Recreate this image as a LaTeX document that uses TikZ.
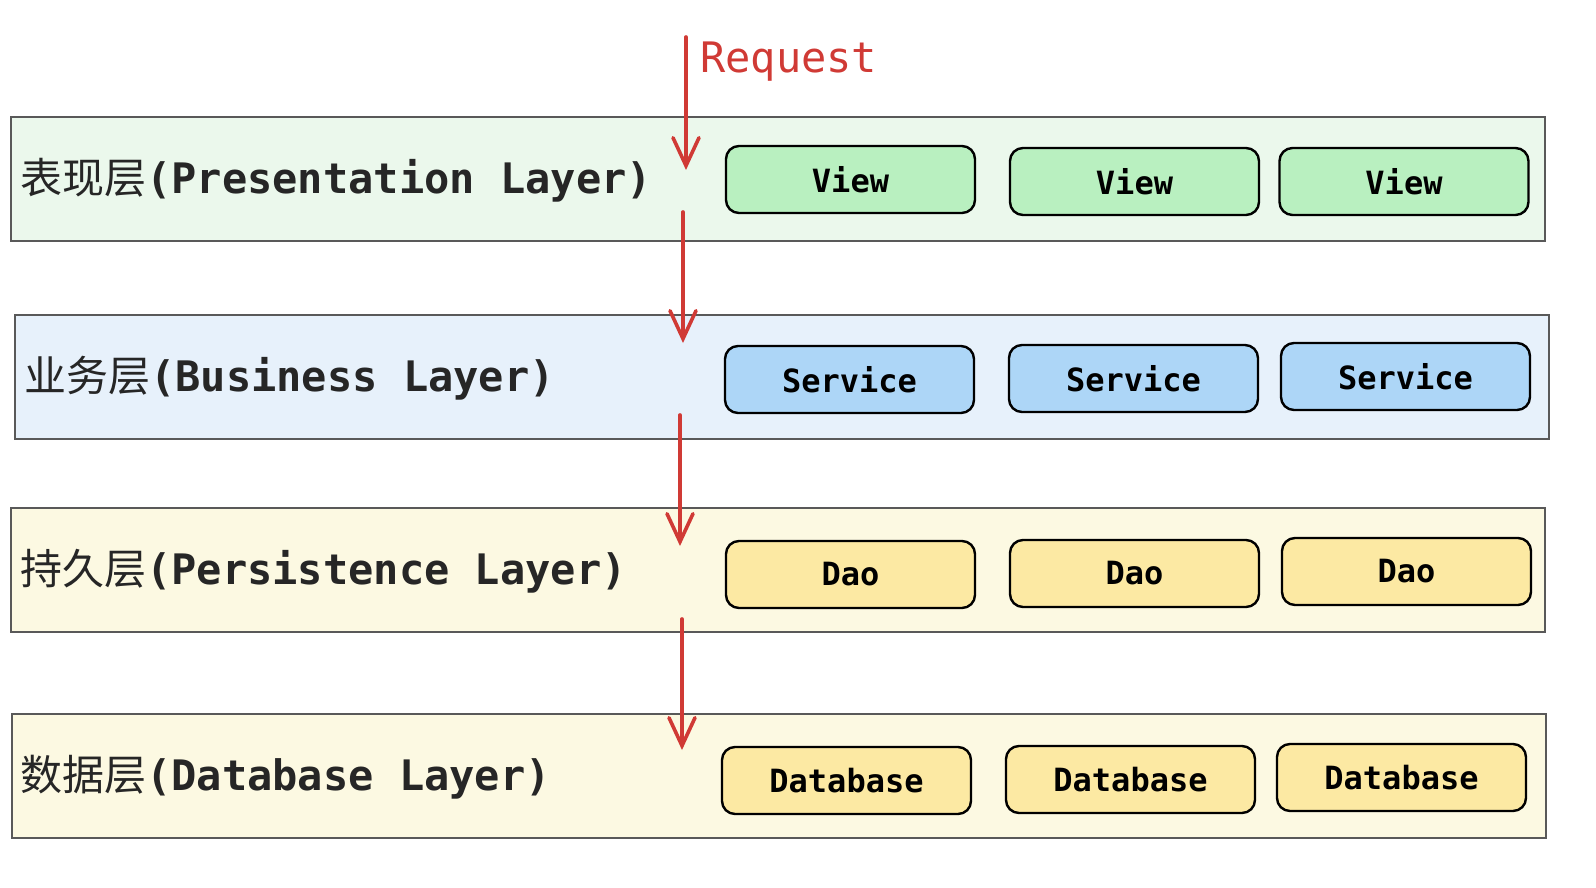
\documentclass[tikz,border=0pt]{standalone}
\usepackage{fontspec}
\usepackage{tikz}
\usetikzlibrary{arrows.meta}
\setmonofont{DejaVu Sans Mono}
\newfontfamily\cjk{Noto Sans CJK SC}
\definecolor{reqred}{HTML}{D03A35}
\definecolor{bandgreen}{HTML}{EBF8EC}
\definecolor{bandblue}{HTML}{E7F1FB}
\definecolor{bandyellow}{HTML}{FCF9E2}
\definecolor{boxgreen}{HTML}{B9F0C0}
\definecolor{boxblue}{HTML}{ADD6F7}
\definecolor{boxyellow}{HTML}{FCE9A3}
\tikzset{>=stealth,
  band/.style={draw=black!65, line width=1.3pt, minimum width=1534pt, minimum height=124pt, inner sep=0pt},
  part/.style={draw=black, line width=2.4pt, rounded corners=13pt, minimum width=249pt, minimum height=67pt,
    inner sep=0pt, font=\fontsize{32pt}{38pt}\ttfamily\bfseries},
  layername/.style={anchor=west, inner sep=0pt, text=black!85, font=\fontsize{42pt}{50pt}\ttfamily\bfseries},
  flow/.style={->, draw=reqred, line width=3.6pt, line cap=round,
    -{Straight Barb[length=28pt,width=26pt,line cap=round]}}
}

\begin{document}
\begin{tikzpicture}[x=1pt,y=-1pt]
\useasboundingbox (0,0) rectangle (1596,888);
% bands
\node[band, fill=bandgreen] (pres) at (778,179) {};
\node[band, fill=bandblue] (bus) at (782,377) {};
\node[band, fill=bandyellow] (pers) at (778,570) {};
\node[band, fill=bandyellow] (db) at (779,776) {};
\node[layername] (presname) at (20,180) {{\cjk\mdseries 表现层}(Presentation Layer)};
\node[layername] (busname) at (24,378) {{\cjk\mdseries 业务层}(Business Layer)};
\node[layername] (persname) at (20,571) {{\cjk\mdseries 持久层}(Persistence Layer)};
\node[layername] (dbname) at (20,777) {{\cjk\mdseries 数据层}(Database Layer)};
% parts
\node[part, fill=boxgreen] (view1) at (850.5,179.5) {View};
\node[part, fill=boxgreen] (view2) at (1134.5,181.5) {View};
\node[part, fill=boxgreen] (view3) at (1404,181.5) {View};
\node[part, fill=boxblue] (serv1) at (849.5,379.5) {Service};
\node[part, fill=boxblue] (serv2) at (1133.5,378.5) {Service};
\node[part, fill=boxblue] (serv3) at (1405.5,376.5) {Service};
\node[part, fill=boxyellow] (dao1) at (850.5,574.5) {Dao};
\node[part, fill=boxyellow] (dao2) at (1134.5,573.5) {Dao};
\node[part, fill=boxyellow] (dao3) at (1406.5,571.5) {Dao};
\node[part, fill=boxyellow] (data1) at (846.5,780.5) {Database};
\node[part, fill=boxyellow] (data2) at (1130.5,779.5) {Database};
\node[part, fill=boxyellow] (data3) at (1401.5,777.5) {Database};
% request flow
\coordinate (r0) at (686,37);
\coordinate (r1) at (686,170);
\coordinate (s0) at (683,212);
\coordinate (s1) at (683,343);
\coordinate (t0) at (680,415);
\coordinate (t1) at (680,546);
\coordinate (u0) at (682,619);
\coordinate (u1) at (682,750);
\node[anchor=west, inner sep=0pt, text=reqred, font=\fontsize{42pt}{50pt}\ttfamily] (req) at (700,62) {Request};
\draw[flow] (r0) -- (r1);
\draw[flow] (s0) -- (s1);
\draw[flow] (t0) -- (t1);
\draw[flow] (u0) -- (u1);
\end{tikzpicture}
\end{document}
